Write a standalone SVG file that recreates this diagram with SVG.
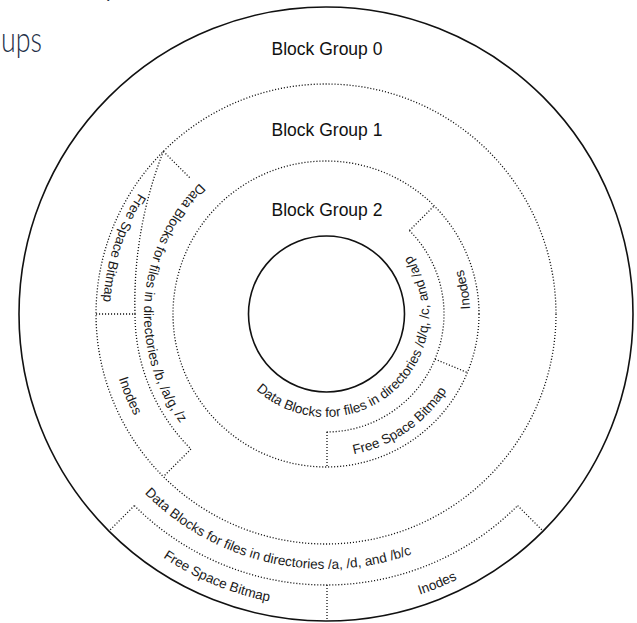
<svg xmlns="http://www.w3.org/2000/svg" xmlns:xlink="http://www.w3.org/1999/xlink" width="637" height="623" viewBox="0 0 637 623">
<style>
.solid{fill:none;stroke:#111;stroke-width:1.6}
.dot{fill:none;stroke:#111;stroke-width:1.3;stroke-dasharray:1.1 1.9}
.lbl{font-family:"Liberation Sans",Arial,sans-serif;font-size:13.5px;fill:#1a1a1a}
.grp{font-family:"Liberation Sans",Arial,sans-serif;font-size:17.5px;fill:#111;text-anchor:middle}
.head{font-family:Lato,"Open Sans",sans-serif;font-weight:300;font-size:36px;fill:#1f3048}
</style>
<defs>
<path id="p-bg2-data" d="M237.71,367.05 A103,103 0 1 0 390.82,233.96"/>
<path id="p-bg2-inodes" d="M418.56,424.31 A144,144 0 0 0 375.25,178.68"/>
<path id="p-bg2-fsb" d="M264.21,442.96 A143,143 0 0 0 468.58,303.03"/>
<path id="p-bg1-fsb" d="M279.64,95.88 A223,223 0 0 0 160.29,463.21"/>
<path id="p-bg1-data" d="M247.94,149.60 A182,182 0 0 0 222.66,463.80"/>
<path id="p-bg1-inodes" d="M153.62,182.19 A217,217 0 0 0 298.05,529.20"/>
<path id="p-bg0-data" d="M82.40,389.40 A255,255 0 0 0 513.09,487.25"/>
<path id="p-bg0-fsb" d="M66.11,449.28 A293,293 0 0 0 414.11,593.43"/>
<path id="p-bg0-inodes" d="M236.49,596.15 A296,296 0 0 0 588.32,451.14"/>
</defs>

<g id="heading">
<text class="head" x="102" y="-5">y</text>
<text class="head" x="1" y="52" textLength="41" lengthAdjust="spacingAndGlyphs">ups</text>
</g>

<g id="disk">
<circle class="solid" cx="326" cy="314" r="307"/>
</g>

<g id="block-group-0">
<circle class="dot" cx="326" cy="314" r="230"/>
<path class="dot" d="M134.37,505.63 A271,271 0 0 0 517.63,505.63"/>
<text class="grp" x="327" y="55">Block Group 0</text>
<text class="lbl"><textPath xlink:href="#p-bg0-data" href="#p-bg0-data" startOffset="50%" text-anchor="middle">Data Blocks for files in directories /a, /d, and /b/c</textPath></text>
<text class="lbl"><textPath xlink:href="#p-bg0-fsb" href="#p-bg0-fsb" startOffset="50%" text-anchor="middle">Free Space Bitmap</textPath></text>
<text class="lbl"><textPath xlink:href="#p-bg0-inodes" href="#p-bg0-inodes" startOffset="50%" text-anchor="middle">Inodes</textPath></text>
</g>

<g id="block-group-1">
<circle class="dot" cx="326" cy="314" r="153"/>
<path class="dot" d="M163.37,151.37 A413,413 0 0 0 135,314"/>
<path class="dot" d="M135,314 A191,191 0 0 0 190.94,449.06"/>
<text class="grp" x="327" y="136">Block Group 1</text>
<text class="lbl"><textPath xlink:href="#p-bg1-fsb" href="#p-bg1-fsb" startOffset="50%" text-anchor="middle">Free Space Bitmap</textPath></text>
<text class="lbl"><textPath xlink:href="#p-bg1-data" href="#p-bg1-data" startOffset="50%" text-anchor="middle">Data Blocks for files in directories /b, /a/g, /z</textPath></text>
<text class="lbl"><textPath xlink:href="#p-bg1-inodes" href="#p-bg1-inodes" startOffset="50%" text-anchor="middle">Inodes</textPath></text>
</g>

<g id="block-group-2">
<path class="dot" d="M409.44,230.56 A118,118 0 0 1 326,432"/>
<text class="grp" x="327" y="216">Block Group 2</text>
<text class="lbl"><textPath xlink:href="#p-bg2-data" href="#p-bg2-data" startOffset="50%" text-anchor="middle">Data Blocks for files in directories /d/q, /c, and /a/p</textPath></text>
<text class="lbl"><textPath xlink:href="#p-bg2-inodes" href="#p-bg2-inodes" startOffset="50%" text-anchor="middle">Inodes</textPath></text>
<text class="lbl"><textPath xlink:href="#p-bg2-fsb" href="#p-bg2-fsb" startOffset="50%" text-anchor="middle">Free Space Bitmap</textPath></text>
</g>

<g id="hub">
<circle class="solid" cx="326.5" cy="314" r="78"/>
</g>

<g id="dividers">
<line class="dot" x1="134.37" y1="505.63" x2="109.5" y2="530.5"/>
<line class="dot" x1="327" y1="585" x2="327" y2="620"/>
<line class="dot" x1="517.63" y1="505.63" x2="542.5" y2="530.5"/>
<line class="dot" x1="163.37" y1="151.37" x2="190.24" y2="178.24"/>
<line class="dot" x1="96" y1="314" x2="135" y2="314"/>
<line class="dot" x1="190.94" y1="449.06" x2="163.37" y2="476.63"/>
<line class="dot" x1="409.44" y1="230.56" x2="434.19" y2="205.81"/>
<line class="dot" x1="435.02" y1="359.16" x2="467.36" y2="372.55"/>
<line class="dot" x1="327" y1="432" x2="327" y2="467"/>
</g>
</svg>
